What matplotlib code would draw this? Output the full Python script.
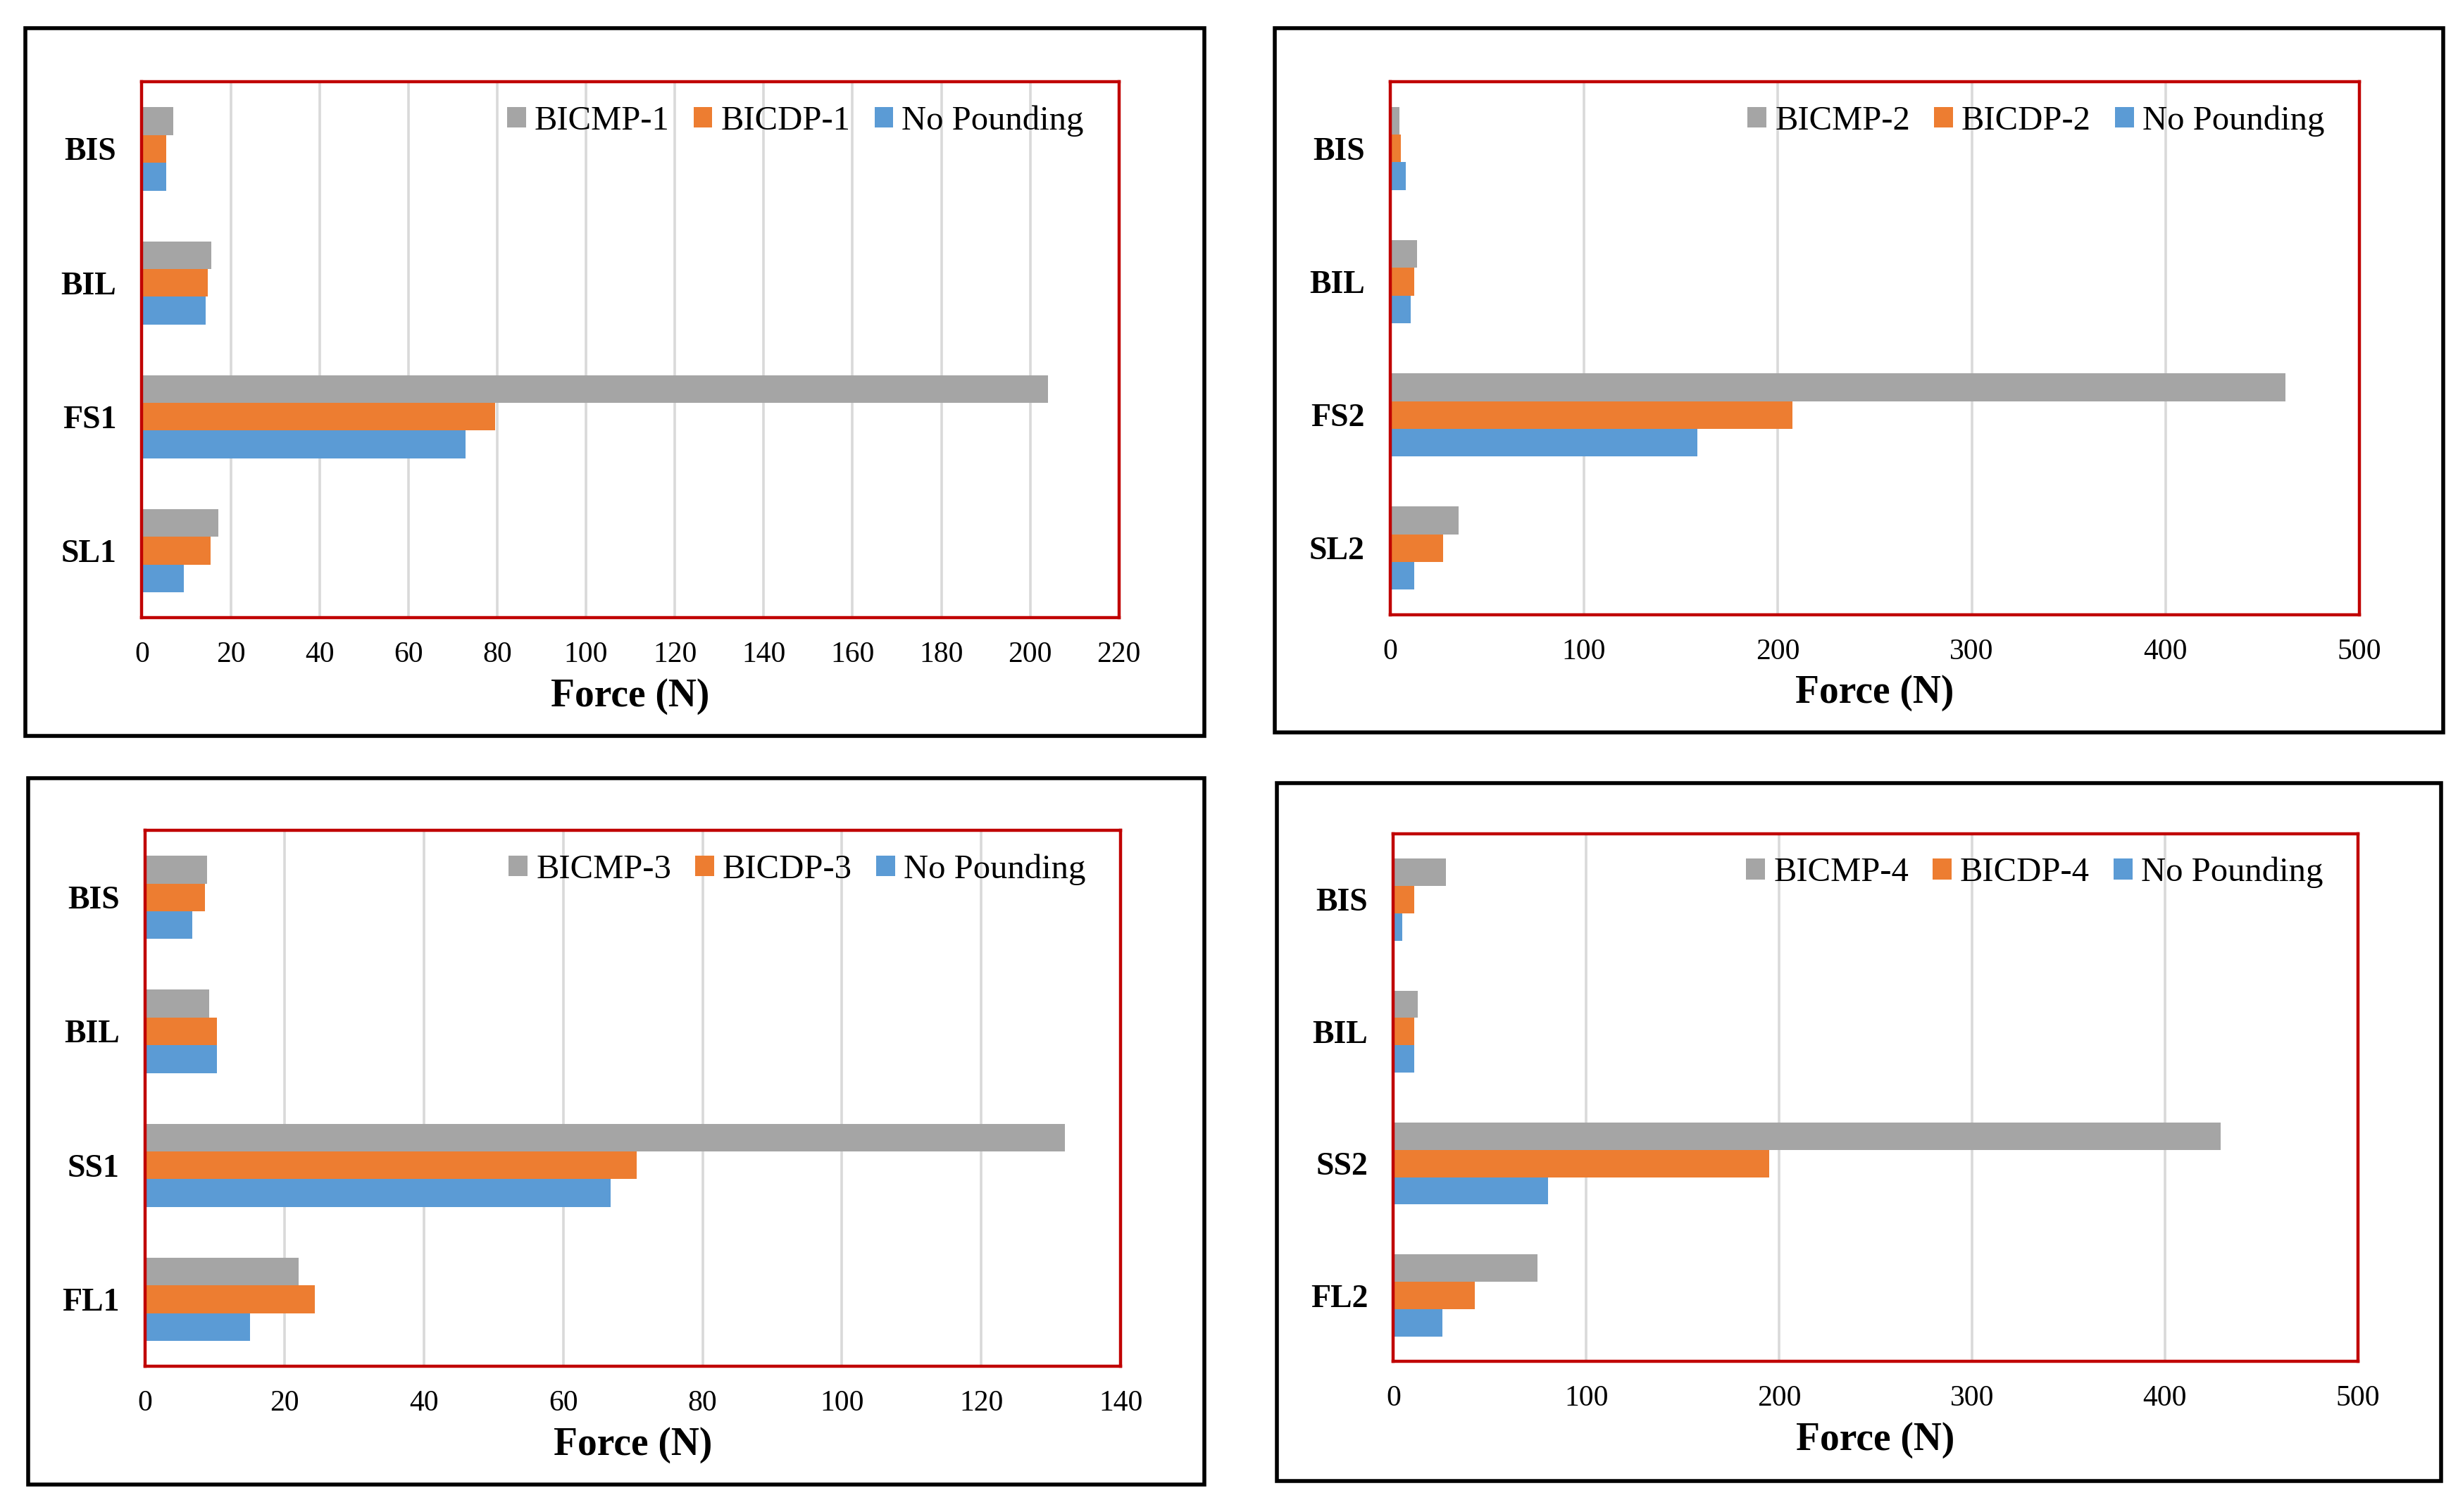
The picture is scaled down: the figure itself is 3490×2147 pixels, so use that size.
'''
Pounding force comparison - four horizontal bar panels
'''

import numpy as np
import matplotlib.pyplot as plt
from matplotlib.patches import Rectangle

# categories listed bottom to top
cats_1 = ['SL1', 'FS1', 'BIL', 'BIS']
cats_2 = ['SL2', 'FS2', 'BIL', 'BIS']
cats_3 = ['FL1', 'SS1', 'BIL', 'BIS']
cats_4 = ['FL2', 'SS2', 'BIL', 'BIS']

# force values (N), same order as the categories
bicmp_1 = [17.2, 204.0, 15.6, 7.1]
bicdp_1 = [15.5, 79.5, 14.9, 5.5]
nopound_1 = [9.4, 72.9, 14.4, 5.5]

bicmp_2 = [35.3, 462.0, 13.8, 4.9]
bicdp_2 = [27.2, 207.6, 12.6, 5.7]
nopound_2 = [12.6, 158.6, 10.5, 8.1]

bicmp_3 = [22.0, 132.0, 9.2, 8.85]
bicdp_3 = [24.4, 70.5, 10.3, 8.6]
nopound_3 = [15.1, 66.8, 10.3, 6.8]

bicmp_4 = [74.6, 429.0, 12.6, 27.3]
bicdp_4 = [42.4, 195.0, 11.0, 11.0]
nopound_4 = [25.3, 80.3, 11.0, 4.5]

xticks_1 = list(range(0, 221, 20))
xticks_2 = list(range(0, 501, 100))
xticks_3 = list(range(0, 141, 20))
xticks_4 = list(range(0, 501, 100))

legend_1 = ['BICMP-1', 'BICDP-1', 'No Pounding']
legend_2 = ['BICMP-2', 'BICDP-2', 'No Pounding']
legend_3 = ['BICMP-3', 'BICDP-3', 'No Pounding']
legend_4 = ['BICMP-4', 'BICDP-4', 'No Pounding']


def draw_panel(fig, rect, box, cats, s1, s2, s3, xticks, names):
    # outer black frame around the whole chart
    fig.add_artist(Rectangle((box[0], box[1]), box[2], box[3], transform=fig.transFigure,
                             fill=False, edgecolor='black', linewidth=2.0))
    ax = fig.add_axes(rect)
    y = np.arange(len(cats))
    h = 0.207
    b1 = ax.barh(y + h, s1, height=h, color='#a5a5a5', zorder=3, label=names[0])
    b2 = ax.barh(y, s2, height=h, color='#ed7d31', zorder=3, label=names[1])
    b3 = ax.barh(y - h, s3, height=h, color='#5b9bd5', zorder=3, label=names[2])

    ax.set_xlim(xticks[0], xticks[-1])
    ax.set_ylim(-0.5, len(cats) - 0.5)
    ax.set_xticks(xticks)
    ax.set_yticks(y)
    ax.set_yticklabels(cats, fontweight='bold', fontsize=16.5)
    ax.tick_params(axis='x', length=0, pad=12, labelsize=15)
    ax.tick_params(axis='y', length=0, pad=13)
    ax.xaxis.grid(True, color='#d9d9d9', linewidth=1.3, zorder=0)
    ax.set_axisbelow(True)
    for s in ax.spines.values():
        s.set_color('#c00000')
        s.set_linewidth(1.6)
        s.set_zorder(4)

    ax.set_xlabel('Force (N)', fontweight='bold', fontsize=20, labelpad=5)
    ax.legend(handles=[b1, b2, b3], loc='upper right', ncol=3, frameon=False,
              fontsize=17.5, handlelength=0.55, handleheight=0.55,
              handletextpad=0.25, columnspacing=0.7,
              bbox_to_anchor=(0.985, 0.995), borderaxespad=0.2)
    return ax


def main():
    plt.rcParams['font.family'] = ['Liberation Serif', 'DejaVu Serif']

    myDPI = 200
    fig = plt.figure(dpi=myDPI, figsize=(3491 / myDPI, 2147 / myDPI))

    draw_panel(fig, [0.0577, 0.5915, 0.3974, 0.3543], [0.0103, 0.5133, 0.4794, 0.4679],
               cats_1, bicmp_1, bicdp_1, nopound_1, xticks_1, legend_1)
    draw_panel(fig, [0.5654, 0.5935, 0.3942, 0.3523], [0.5186, 0.5154, 0.4750, 0.4658],
               cats_2, bicmp_2, bicdp_2, nopound_2, xticks_2, legend_2)
    draw_panel(fig, [0.0590, 0.0964, 0.3968, 0.3544], [0.0115, 0.0182, 0.4782, 0.4669],
               cats_3, bicmp_3, bicdp_3, nopound_3, xticks_3, legend_3)
    draw_panel(fig, [0.5667, 0.0995, 0.3923, 0.3492], [0.5192, 0.0203, 0.4737, 0.4617],
               cats_4, bicmp_4, bicdp_4, nopound_4, xticks_4, legend_4)

    plt.savefig("out.png", dpi=myDPI)


if __name__ == '__main__':
    main()
